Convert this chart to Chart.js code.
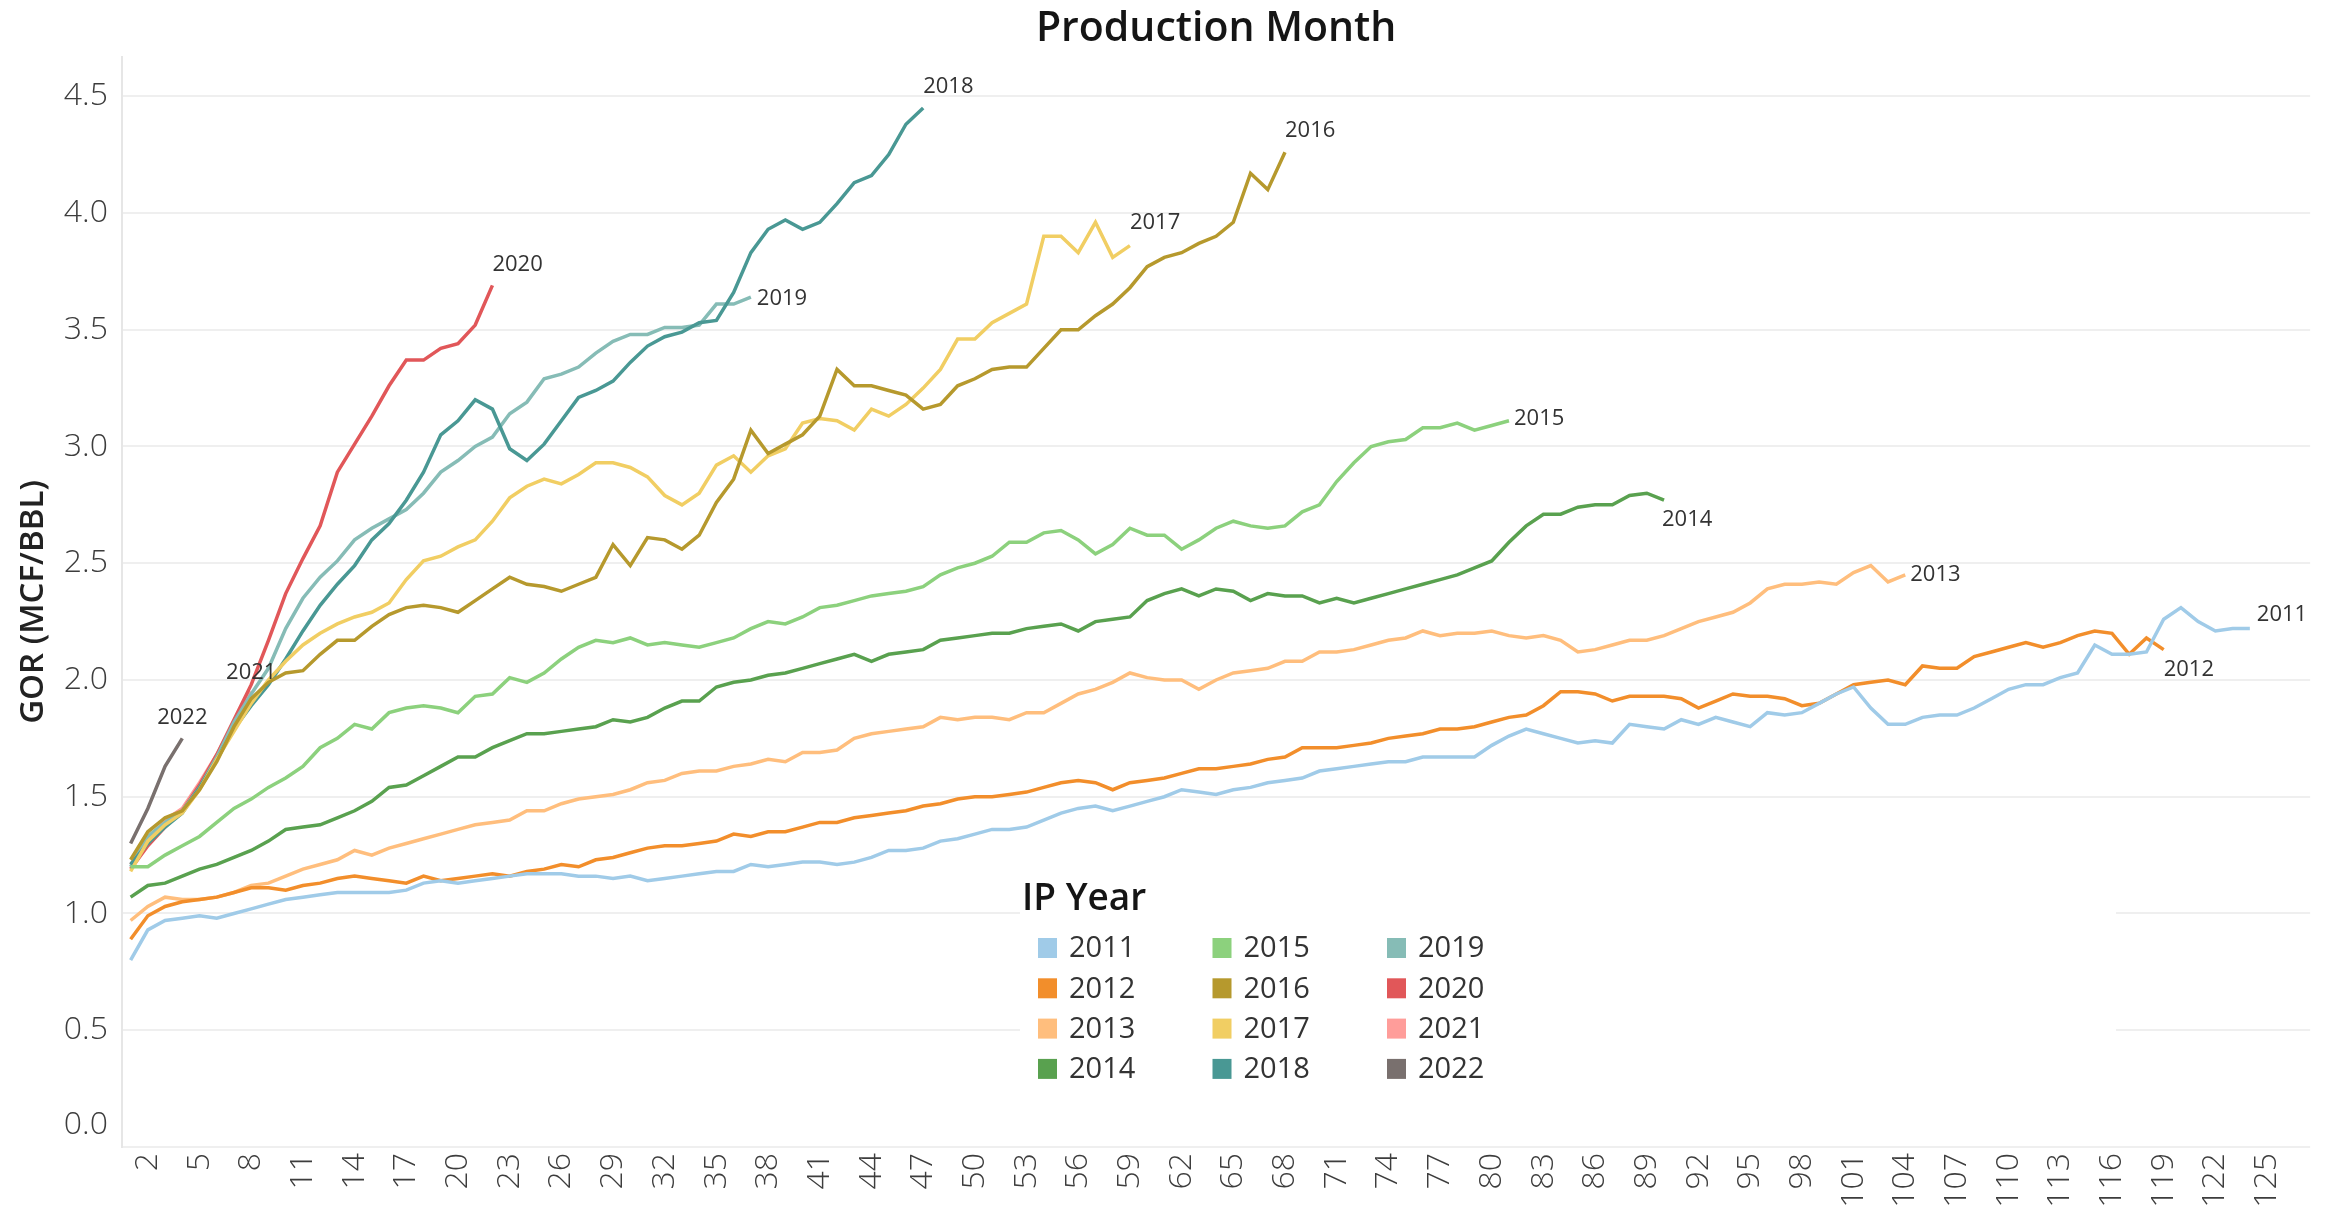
<!DOCTYPE html>
<html>
<head>
<meta charset="utf-8">
<title>GOR by Production Month</title>
<script src="https://cdn.jsdelivr.net/npm/chart.js@4.4.1/dist/chart.umd.min.js"></script>
<style>
  html, body { margin: 0; padding: 0; background: #ffffff; }
  #wrap { width: 2346px; height: 1209px; }
</style>
</head>
<body>
<div id="wrap"><canvas id="gorChart" width="2346" height="1209"></canvas></div>
<script>
// Production months on the x axis (1..127)
const months = Array.from({ length: 127 }, (_, i) => String(i + 1));

const ipYears = ['2011', '2012', '2013', '2014', '2015', '2016',
                 '2017', '2018', '2019', '2020', '2021', '2022'];

// GOR (MCF/BBL) per production month
const gor2011 = [
  0.80, 0.93, 0.97, 0.98, 0.99, 0.98, 1.00, 1.02, 1.04, 1.06,
  1.07, 1.08, 1.09, 1.09, 1.09, 1.09, 1.10, 1.13, 1.14, 1.13,
  1.14, 1.15, 1.16, 1.17, 1.17, 1.17, 1.16, 1.16, 1.15, 1.16,
  1.14, 1.15, 1.16, 1.17, 1.18, 1.18, 1.21, 1.20, 1.21, 1.22,
  1.22, 1.21, 1.22, 1.24, 1.27, 1.27, 1.28, 1.31, 1.32, 1.34,
  1.36, 1.36, 1.37, 1.40, 1.43, 1.45, 1.46, 1.44, 1.46, 1.48,
  1.50, 1.53, 1.52, 1.51, 1.53, 1.54, 1.56, 1.57, 1.58, 1.61,
  1.62, 1.63, 1.64, 1.65, 1.65, 1.67, 1.67, 1.67, 1.67, 1.72,
  1.76, 1.79, 1.77, 1.75, 1.73, 1.74, 1.73, 1.81, 1.80, 1.79,
  1.83, 1.81, 1.84, 1.82, 1.80, 1.86, 1.85, 1.86, 1.90, 1.94,
  1.97, 1.88, 1.81, 1.81, 1.84, 1.85, 1.85, 1.88, 1.92, 1.96,
  1.98, 1.98, 2.01, 2.03, 2.15, 2.11, 2.11, 2.12, 2.26, 2.31,
  2.25, 2.21, 2.22, 2.22
];
const gor2012 = [
  0.89, 0.99, 1.03, 1.05, 1.06, 1.07, 1.09, 1.11, 1.11, 1.10,
  1.12, 1.13, 1.15, 1.16, 1.15, 1.14, 1.13, 1.16, 1.14, 1.15,
  1.16, 1.17, 1.16, 1.18, 1.19, 1.21, 1.20, 1.23, 1.24, 1.26,
  1.28, 1.29, 1.29, 1.30, 1.31, 1.34, 1.33, 1.35, 1.35, 1.37,
  1.39, 1.39, 1.41, 1.42, 1.43, 1.44, 1.46, 1.47, 1.49, 1.50,
  1.50, 1.51, 1.52, 1.54, 1.56, 1.57, 1.56, 1.53, 1.56, 1.57,
  1.58, 1.60, 1.62, 1.62, 1.63, 1.64, 1.66, 1.67, 1.71, 1.71,
  1.71, 1.72, 1.73, 1.75, 1.76, 1.77, 1.79, 1.79, 1.80, 1.82,
  1.84, 1.85, 1.89, 1.95, 1.95, 1.94, 1.91, 1.93, 1.93, 1.93,
  1.92, 1.88, 1.91, 1.94, 1.93, 1.93, 1.92, 1.89, 1.90, 1.94,
  1.98, 1.99, 2.00, 1.98, 2.06, 2.05, 2.05, 2.10, 2.12, 2.14,
  2.16, 2.14, 2.16, 2.19, 2.21, 2.20, 2.11, 2.18, 2.13
];
const gor2013 = [
  0.97, 1.03, 1.07, 1.06, 1.06, 1.07, 1.09, 1.12, 1.13, 1.16,
  1.19, 1.21, 1.23, 1.27, 1.25, 1.28, 1.30, 1.32, 1.34, 1.36,
  1.38, 1.39, 1.40, 1.44, 1.44, 1.47, 1.49, 1.50, 1.51, 1.53,
  1.56, 1.57, 1.60, 1.61, 1.61, 1.63, 1.64, 1.66, 1.65, 1.69,
  1.69, 1.70, 1.75, 1.77, 1.78, 1.79, 1.80, 1.84, 1.83, 1.84,
  1.84, 1.83, 1.86, 1.86, 1.90, 1.94, 1.96, 1.99, 2.03, 2.01,
  2.00, 2.00, 1.96, 2.00, 2.03, 2.04, 2.05, 2.08, 2.08, 2.12,
  2.12, 2.13, 2.15, 2.17, 2.18, 2.21, 2.19, 2.20, 2.20, 2.21,
  2.19, 2.18, 2.19, 2.17, 2.12, 2.13, 2.15, 2.17, 2.17, 2.19,
  2.22, 2.25, 2.27, 2.29, 2.33, 2.39, 2.41, 2.41, 2.42, 2.41,
  2.46, 2.49, 2.42, 2.45
];
const gor2014 = [
  1.07, 1.12, 1.13, 1.16, 1.19, 1.21, 1.24, 1.27, 1.31, 1.36,
  1.37, 1.38, 1.41, 1.44, 1.48, 1.54, 1.55, 1.59, 1.63, 1.67,
  1.67, 1.71, 1.74, 1.77, 1.77, 1.78, 1.79, 1.80, 1.83, 1.82,
  1.84, 1.88, 1.91, 1.91, 1.97, 1.99, 2.00, 2.02, 2.03, 2.05,
  2.07, 2.09, 2.11, 2.08, 2.11, 2.12, 2.13, 2.17, 2.18, 2.19,
  2.20, 2.20, 2.22, 2.23, 2.24, 2.21, 2.25, 2.26, 2.27, 2.34,
  2.37, 2.39, 2.36, 2.39, 2.38, 2.34, 2.37, 2.36, 2.36, 2.33,
  2.35, 2.33, 2.35, 2.37, 2.39, 2.41, 2.43, 2.45, 2.48, 2.51,
  2.59, 2.66, 2.71, 2.71, 2.74, 2.75, 2.75, 2.79, 2.80, 2.77
];
const gor2015 = [
  1.20, 1.20, 1.25, 1.29, 1.33, 1.39, 1.45, 1.49, 1.54, 1.58,
  1.63, 1.71, 1.75, 1.81, 1.79, 1.86, 1.88, 1.89, 1.88, 1.86,
  1.93, 1.94, 2.01, 1.99, 2.03, 2.09, 2.14, 2.17, 2.16, 2.18,
  2.15, 2.16, 2.15, 2.14, 2.16, 2.18, 2.22, 2.25, 2.24, 2.27,
  2.31, 2.32, 2.34, 2.36, 2.37, 2.38, 2.40, 2.45, 2.48, 2.50,
  2.53, 2.59, 2.59, 2.63, 2.64, 2.60, 2.54, 2.58, 2.65, 2.62,
  2.62, 2.56, 2.60, 2.65, 2.68, 2.66, 2.65, 2.66, 2.72, 2.75,
  2.85, 2.93, 3.00, 3.02, 3.03, 3.08, 3.08, 3.10, 3.07, 3.09,
  3.11
];
const gor2016 = [
  1.23, 1.35, 1.41, 1.44, 1.53, 1.65, 1.80, 1.92, 1.99, 2.03,
  2.04, 2.11, 2.17, 2.17, 2.23, 2.28, 2.31, 2.32, 2.31, 2.29,
  2.34, 2.39, 2.44, 2.41, 2.40, 2.38, 2.41, 2.44, 2.58, 2.49,
  2.61, 2.60, 2.56, 2.62, 2.76, 2.86, 3.07, 2.97, 3.01, 3.05,
  3.13, 3.33, 3.26, 3.26, 3.24, 3.22, 3.16, 3.18, 3.26, 3.29,
  3.33, 3.34, 3.34, 3.42, 3.50, 3.50, 3.56, 3.61, 3.68, 3.77,
  3.81, 3.83, 3.87, 3.90, 3.96, 4.17, 4.10, 4.26
];
const gor2017 = [
  1.18, 1.31, 1.38, 1.43, 1.53, 1.66, 1.78, 1.90, 2.00, 2.08,
  2.15, 2.20, 2.24, 2.27, 2.29, 2.33, 2.43, 2.51, 2.53, 2.57,
  2.60, 2.68, 2.78, 2.83, 2.86, 2.84, 2.88, 2.93, 2.93, 2.91,
  2.87, 2.79, 2.75, 2.80, 2.92, 2.96, 2.89, 2.96, 2.99, 3.10,
  3.12, 3.11, 3.07, 3.16, 3.13, 3.18, 3.25, 3.33, 3.46, 3.46,
  3.53, 3.57, 3.61, 3.90, 3.90, 3.83, 3.96, 3.81, 3.86
];
const gor2018 = [
  1.21, 1.30, 1.37, 1.43, 1.54, 1.66, 1.79, 1.89, 1.98, 2.09,
  2.21, 2.32, 2.41, 2.49, 2.60, 2.67, 2.77, 2.89, 3.05, 3.11,
  3.20, 3.16, 2.99, 2.94, 3.01, 3.11, 3.21, 3.24, 3.28, 3.36,
  3.43, 3.47, 3.49, 3.53, 3.54, 3.66, 3.83, 3.93, 3.97, 3.93,
  3.96, 4.04, 4.13, 4.16, 4.25, 4.38, 4.45
];
const gor2019 = [
  1.20, 1.33, 1.39, 1.44, 1.54, 1.67, 1.82, 1.94, 2.05, 2.22,
  2.35, 2.44, 2.51, 2.60, 2.65, 2.69, 2.73, 2.80, 2.89, 2.94,
  3.00, 3.04, 3.14, 3.19, 3.29, 3.31, 3.34, 3.40, 3.45, 3.48,
  3.48, 3.51, 3.51, 3.52, 3.61, 3.61, 3.64
];
const gor2020 = [
  1.19, 1.29, 1.37, 1.44, 1.55, 1.68, 1.83, 1.98, 2.17, 2.37,
  2.52, 2.66, 2.89, 3.01, 3.13, 3.26, 3.37, 3.37, 3.42, 3.44,
  3.52, 3.69
];
const gor2021 = [1.21, 1.31, 1.40, 1.45, 1.56, 1.68, 1.82, 1.95];
const gor2022 = [1.30, 1.45, 1.63, 1.75];

const gorByYear = [gor2011, gor2012, gor2013, gor2014, gor2015, gor2016,
                   gor2017, gor2018, gor2019, gor2020, gor2021, gor2022];

const yTicks = [0, 0.5, 1, 1.5, 2, 2.5, 3, 3.5, 4, 4.5];

// styling
const seriesColors = {
  '2011': '#A0CBE8', '2012': '#F28E2B', '2013': '#FFBE7D', '2014': '#59A14F',
  '2015': '#8CD17D', '2016': '#B6992D', '2017': '#F1CE63', '2018': '#499894',
  '2019': '#86BCB6', '2020': '#E15759', '2021': '#FF9D9A', '2022': '#79706E'
};
// [dx, dy, align] for the year label at the end of each line
const endLabelOffsets = {
  '2011': [7, -14, 'left'],  '2012': [0, 20, 'left'],  '2013': [5, 0, 'left'],
  '2014': [-2, 20, 'left'],  '2015': [5, -2, 'left'],  '2016': [0, -22, 'left'],
  '2017': [0, -23, 'left'],  '2018': [0, -21, 'left'], '2019': [6, 2, 'left'],
  '2020': [0, -21, 'left'],  '2021': [0, -19, 'center'], '2022': [0, -21, 'center']
};
const FONT = '"Open Sans", "DejaVu Sans", sans-serif';
const TICK_FONT = { family: FONT, size: 32, weight: '300' };
const TICK_COLOR = '#3d3d3d';
const Y_TICK_PAD = 14;

const overlay = {
  id: 'overlay',
  beforeDatasetsDraw(chart) {
    // floating legend sits on a white card that hides the grid
    const ctx = chart.ctx;
    ctx.save();
    ctx.fillStyle = '#ffffff';
    ctx.fillRect(1020, 866, 1096, 242);
    ctx.restore();
  },
  afterDatasetsDraw(chart) {
    const ctx = chart.ctx;
    ctx.save();
    ctx.font = '22px ' + FONT;
    ctx.fillStyle = '#333333';
    ctx.textBaseline = 'middle';
    chart.data.datasets.forEach((ds, i) => {
      const meta = chart.getDatasetMeta(i);
      const last = meta.data[ds.data.length - 1];
      if (!last) return;
      const off = endLabelOffsets[ds.label];
      ctx.textAlign = off[2];
      ctx.fillText(ds.label, last.x + off[0], last.y + off[1]);
    });
    ctx.restore();
  },
  afterDraw(chart) {
    const ctx = chart.ctx;
    const area = chart.chartArea;
    ctx.save();

    // header
    ctx.fillStyle = '#151515';
    ctx.font = '600 41px ' + FONT;
    ctx.textAlign = 'center';
    ctx.textBaseline = 'middle';
    ctx.fillText('Production Month', (area.left + area.right) / 2, 29);

    // the bottom value label is nudged up off the axis edge
    ctx.textAlign = 'right';
    ctx.font = TICK_FONT.weight + ' ' + TICK_FONT.size + 'px ' + FONT;
    ctx.fillStyle = TICK_COLOR;
    ctx.fillText((0).toFixed(1), area.left - Y_TICK_PAD, area.bottom - 22);

    // y axis title
    ctx.save();
    ctx.textAlign = 'center';
    ctx.translate(34, (area.top + area.bottom) / 2);
    ctx.rotate(-Math.PI / 2);
    ctx.font = '600 33px ' + FONT;
    ctx.fillStyle = '#222222';
    ctx.fillText('GOR (MCF/BBL)', 0, 0);
    ctx.restore();

    // legend
    ctx.textAlign = 'left';
    ctx.font = '600 37px ' + FONT;
    ctx.fillStyle = '#151515';
    ctx.fillText('IP Year', 1022, 899);
    ctx.font = '29px ' + FONT;
    ipYears.forEach((yr, i) => {
      const col = Math.floor(i / 4);
      const row = i % 4;
      const x = 1038 + col * 174.5;
      const y = 948 + row * 40.3;
      ctx.fillStyle = seriesColors[yr];
      ctx.fillRect(x, y - 10, 19, 20);
      ctx.fillStyle = '#333333';
      ctx.fillText(yr, x + 31, y + 1);
    });
    ctx.restore();
  }
};

const datasets = ipYears.map((yr, i) => ({
  label: yr,
  data: gorByYear[i],
  borderColor: seriesColors[yr],
  backgroundColor: seriesColors[yr],
  borderWidth: 3.5,
  pointRadius: 0,
  tension: 0,
  fill: false
}));

new Chart(document.getElementById('gorChart'), {
  type: 'line',
  data: { labels: months, datasets: datasets },
  plugins: [overlay],
  options: {
    responsive: false,
    animation: false,
    layout: { padding: { top: 57, right: 19, left: 0, bottom: 0 } },
    plugins: {
      legend: { display: false },
      tooltip: { enabled: false },
      title: { display: false }
    },
    scales: {
      x: {
        type: 'category',
        offset: true,
        grid: { display: false, drawTicks: false },
        border: { display: false },
        ticks: {
          autoSkip: false,
          minRotation: 90,
          maxRotation: 90,
          padding: 6,
          color: TICK_COLOR,
          font: TICK_FONT,
          callback: function (value) {
            const m = Number(this.getLabelForValue(value));
            return (m - 2) % 3 === 0 ? String(m) : '';
          }
        },
        afterFit: (scale) => { scale.height = 62; }
      },
      y: {
        min: 0,
        max: 4.668,
        afterBuildTicks: (scale) => { scale.ticks = yTicks.map(v => ({ value: v })); },
        ticks: {
          padding: Y_TICK_PAD,
          color: TICK_COLOR,
          font: TICK_FONT,
          callback: (v) => (v === 0 ? '' : v.toFixed(1))
        },
        grid: { color: '#efefef', lineWidth: 2, drawTicks: false },
        border: { display: true, color: '#e6e6e6', width: 2 },
        afterFit: (scale) => { scale.width = 122; }
      }
    }
  }
});
</script>
</body>
</html>
